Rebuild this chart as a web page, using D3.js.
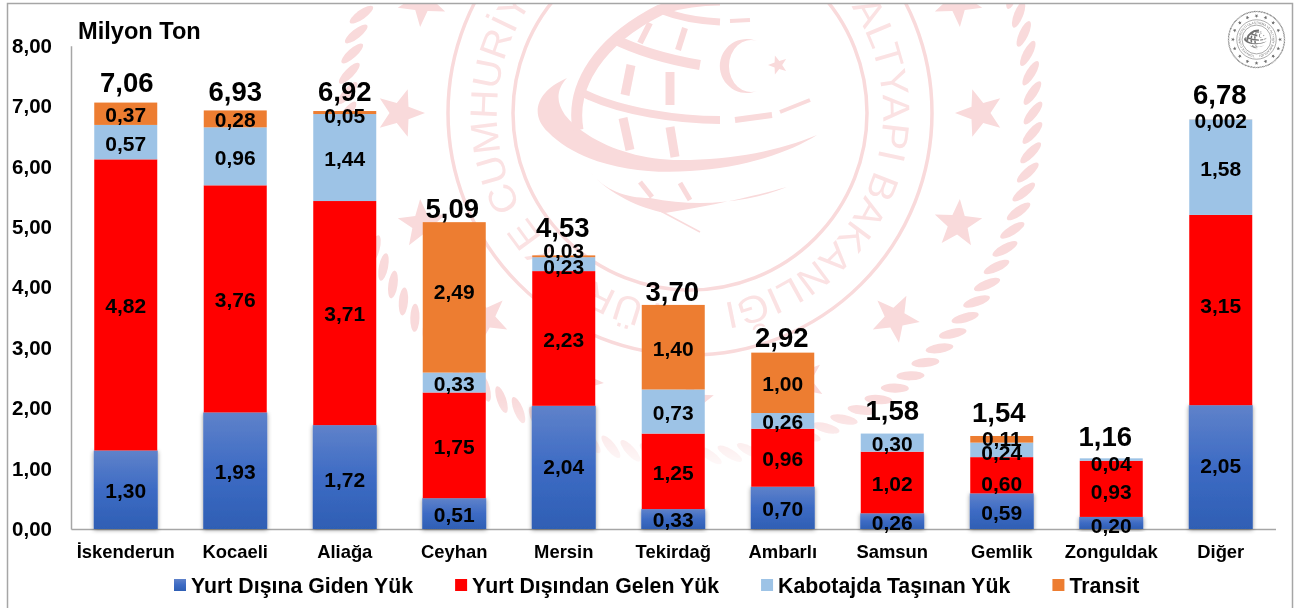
<!DOCTYPE html>
<html lang="tr"><head><meta charset="utf-8">
<script src="https://cdn.jsdelivr.net/npm/d3@7/dist/d3.min.js"></script>
<style>html,body{margin:0;padding:0;background:#fff}svg{display:block}
text{font-family:"Liberation Sans",Arial,sans-serif;font-weight:700;fill:#000}</style>
</head><body><svg id="c" width="1303" height="608"></svg>
<script>
// ---- data ----
const categories = ["İskenderun","Kocaeli","Aliağa","Ceyhan","Mersin","Tekirdağ","Ambarlı","Samsun","Gemlik","Zonguldak","Diğer"];
const seriesNames = ["Yurt Dışına Giden Yük","Yurt Dışından Gelen Yük","Kabotajda Taşınan Yük","Transit"];
const gidenYuk   = [1.30,1.93,1.72,0.51,2.04,0.33,0.70,0.26,0.59,0.20,2.05];
const gelenYuk   = [4.82,3.76,3.71,1.75,2.23,1.25,0.96,1.02,0.60,0.93,3.15];
const kabotajYuk = [0.57,0.96,1.44,0.33,0.23,0.73,0.26,0.30,0.24,0.04,1.58];
const transitYuk = [0.37,0.28,0.05,2.49,0.03,1.40,1.00,0,0.11,0,0.002];
const totals     = [7.06,6.93,6.92,5.09,4.53,3.70,2.92,1.58,1.54,1.16,6.78];
const yTicks     = [0,1,2,3,4,5,6,7,8];
const yTitle     = "Milyon Ton";
const sealText   = "TÜRKİYE CUMHURİYETİ ULAŞTIRMA VE ALTYAPI BAKANLIĞI";

// ---- layout tweaks (hand-placed labels of the original) ----
const totalLift = [20,19,20,14,28,14,15,23,24,22,25];
const totalShift = [1,0,0,-2,-1,-1,-1,0,-3,-6,-1];
const labelNudge = {"4|3":-7,"4|2":1,"9|2":3,"9|0":2,"8|3":-2,"8|2":2,"2|3":2,"3|3":-7,"10|1":-5,"8|1":7,"9|1":2,"2|0":2,"10|0":-2,"4|0":-2};

const svg = d3.select("#c");
const defs = svg.append("defs");
const grad = defs.append("linearGradient").attr("id","blueGrad").attr("x1",0).attr("y1",0).attr("x2",0).attr("y2",1);
grad.append("stop").attr("offset",0).attr("stop-color","#5f82ca");
grad.append("stop").attr("offset",.5).attr("stop-color","#3d6bc4");
grad.append("stop").attr("offset",1).attr("stop-color","#2f5fb4");
const sh = defs.append("filter").attr("id","shadow").attr("x","-20%").attr("y","-20%").attr("width","140%").attr("height","140%");
sh.append("feDropShadow").attr("dx",0).attr("dy",1).attr("stdDeviation",2.2).attr("flood-color","#000").attr("flood-opacity",.42);
const soft = defs.append("filter").attr("id","soft");
soft.append("feGaussianBlur").attr("stdDeviation",.7);
const soft2 = defs.append("filter").attr("id","soft2");
soft2.append("feGaussianBlur").attr("stdDeviation",4);
const clip = defs.append("clipPath").attr("id","frame");
clip.append("rect").attr("x",8).attr("y",4).attr("width",1284).attr("height",604);
const fade = defs.append("linearGradient").attr("id","fadeGrad").attr("gradientUnits","userSpaceOnUse").attr("x1",0).attr("y1",400).attr("x2",0).attr("y2",480);
fade.append("stop").attr("offset",0).attr("stop-color","#fff");
fade.append("stop").attr("offset",1).attr("stop-color","#000");
const mask = defs.append("mask").attr("id","fadeMask").attr("maskUnits","userSpaceOnUse").attr("x",0).attr("y",0).attr("width",1303).attr("height",608);
mask.append("rect").attr("width",1303).attr("height",608).attr("fill","url(#fadeGrad)");

// ---- seal (watermark and corner logo share it) ----
function star(r){
  return d3.range(10).map(i=>{const a=i*Math.PI/5, q=i%2?r*.42:r; return [q*Math.sin(a),-q*Math.cos(a)];});
}
function drawSeal(g, col, pale, sw, tid){
  const ink = g.append("g").attr("fill","none").attr("stroke",col);
  ink.append("circle").attr("r",242).attr("stroke-width",sw*3.5);
  ink.append("circle").attr("r",177).attr("stroke-width",sw*3.5);
  // rope
  d3.range(108).forEach(i=>{
    const a=i/108*360;
    g.append("ellipse").attr("cx",343).attr("cy",0).attr("rx",14).attr("ry",4.6)
      .attr("transform",`rotate(${a}) rotate(-52,343,0)`).attr("fill",col);
  });
  // stars
  d3.range(16).forEach(i=>{
    const a=i*22.5;
    g.append("polygon").attr("points",star(25).join(" "))
      .attr("transform",`rotate(${a}) translate(290,0) rotate(-90)`).attr("fill",col);
  });
  const R=193,s=186*Math.PI/180;
  const pa=`M${R*Math.sin(s)},${-R*Math.cos(s)}`+
    `A${R},${R} 0 1 1 ${R*Math.sin(s+Math.PI)},${-R*Math.cos(s+Math.PI)}`+
    `A${R},${R} 0 1 1 ${R*Math.sin(s+2*Math.PI)},${-R*Math.cos(s+2*Math.PI)}`;
  defs.append("path").attr("id",tid).attr("d",pa);
  g.append("text").style("font-size","38px").style("font-weight",400).style("fill",pale)
   .append("textPath").attr("href","#"+tid)
   .attr("textLength",R*344*Math.PI/180).attr("lengthAdjust","spacingAndGlyphs").text(sealText);
  // emblem, sketched in the picture's own coordinates round the seal's centre
  const e=g.append("g").attr("transform","translate(-690,-113)");
  const fillP=d=>e.append("path").attr("d",d).attr("fill",col);
  const st=(d,w)=>e.append("path").attr("d",d).attr("fill","none").attr("stroke",col).attr("stroke-width",w*sw);
  fillP("M567,78C535,92 530,115 548,132C580,165 640,175 690,171C745,168 790,152 817,135C780,150 735,160 680,160C630,160 585,140 565,115C556,102 556,90 567,78Z");
  fillP("M590,172C605,190 625,198 650,198C700,208 750,202 787,187C750,197 715,205 665,213C640,208 610,195 590,172Z");
  st("M578,130C570,85 600,40 660,10C680,2 700,0 720,0",11);
  st("M612,38C640,52 670,60 700,65",10);
  st("M660,10C680,18 700,21 720,22",7);
  st("M730,21L750,20",4);
  st("M583,93C620,112 680,120 720,120",8);
  st("M735,120L772,115",6);
  st("M780,112L810,100",4);
  [["M650,23L640,43",6],["M685,28L678,50",6],["M631,65L625,95",9],["M670,72L670,105",9],["M623,118L630,150",9],["M670,127L675,157",9],["M640,182L652,197",5],["M680,183L690,200",5]].forEach(p=>st(p[0],p[1]));
  st("M640,200L700,232",1.5);
  fillP("M757,41A27,27 0 1 0 757,91A22,26 0 1 1 757,41Z");
  e.append("polygon").attr("points",star(10).join(" ")).attr("transform","translate(778,65) rotate(-90)").attr("fill",col);
}
const back = svg.append("g").attr("clip-path","url(#frame)");
const masked = back.append("g").attr("mask","url(#fadeMask)");
const mark = masked.append("g").attr("transform","translate(690,113)").attr("filter","url(#soft)");
drawSeal(mark,"#f9dadb","#fbe2e3",1,"sealBig");

// ---- frame ----
svg.append("path").attr("d","M7.5,608V3.5H1292.5V608").attr("fill","none").attr("stroke","#a6a6a6").attr("stroke-width",1.5);

// corner logo
const logo = svg.append("g").attr("transform","translate(1256.5,39.5) scale(0.0815)");
drawSeal(logo,"#6f6f6f","#6f6f6f",2,"sealSmall");

// ---- scales ----
const x = d3.scaleBand().domain(categories).range([71,1275.5]).paddingInner(1-63/109.5).paddingOuter((1-63/109.5)/2);
const y = d3.scaleLinear().domain([0,8]).range([529,45.8]);
const colors = d3.scaleOrdinal().domain(seriesNames).range(["url(#blueGrad)","#ff0000","#9dc3e6","#ed7d31"]);

const rows = categories.map((c,i)=>({cat:c,[seriesNames[0]]:gidenYuk[i],[seriesNames[1]]:gelenYuk[i],[seriesNames[2]]:kabotajYuk[i],[seriesNames[3]]:transitYuk[i]}));
const stack = d3.stack().keys(seriesNames)(rows);

// ---- axes ----
const yAxis = d3.axisLeft(y).tickValues(yTicks).tickSize(0).tickPadding(19).tickFormat(d=>d3.format(".2f")(d).replace(".",","));
const gy = svg.append("g").attr("transform","translate(71,0)").call(yAxis);
gy.select(".domain").attr("stroke","#a6a6a6").attr("stroke-width",1.5);
gy.selectAll("text").style("font-size","20.5px").style("font-family",'"Liberation Sans"');
const xAxis = d3.axisBottom(x).tickSize(0).tickPadding(16);
const gx = svg.append("g").attr("transform","translate(0,529)").call(xAxis);
gx.select(".domain").attr("stroke","#a6a6a6").attr("stroke-width",1.5);
gx.selectAll("text").style("font-size","18.4px").style("font-family",'"Liberation Sans"');

svg.append("text").attr("x",78).attr("y",39).style("font-size","23.6px").text(yTitle);

// ---- bars ----
const layers = svg.selectAll("g.layer").data(stack).join("g").attr("class","layer")
  .attr("fill",d=>colors(d.key));
layers.each(function(s,si){
  d3.select(this).selectAll("rect").data(Array.from(s)).join("rect")
    .attr("x",d=>x(d.data.cat)-(si===0?0.5:0))
    .attr("width",x.bandwidth()+(si===0?1:0))
    .attr("y",d=>y(d[1]))
    .attr("height",d=>Math.max(0,y(d[0])-y(d[1])))
    .attr("filter",si===0?"url(#shadow)":null);
});

// ---- value labels ----
const fmt = v => (v<0.01?d3.format(".3f")(v):d3.format(".2f")(v)).replace(".",",");
stack.forEach((s,si)=>{
  svg.append("g").selectAll("text").data(Array.from(s).filter(d=>d[1]-d[0]>0)).join("text")
    .attr("x",d=>x(d.data.cat)+x.bandwidth()/2)
    .attr("y",d=>(y(d[0])+y(d[1]))/2+(labelNudge[categories.indexOf(d.data.cat)+"|"+si]||0))
    .attr("dy",".4em").attr("text-anchor","middle").style("font-size","21px")
    .text(d=>fmt(d[1]-d[0]));
});
svg.append("g").selectAll("text").data(totals).join("text")
  .attr("x",(d,i)=>x(categories[i])+x.bandwidth()/2+totalShift[i])
  .attr("y",(d,i)=>y(stack[3][i][1])-totalLift[i])
  .attr("dy",".35em").attr("text-anchor","middle").style("font-size","27.5px")
  .text(d=>d3.format(".2f")(d).replace(".",","));

// ---- legend ----
const lg = svg.append("g").attr("transform","translate(174,0)");
let lx = 0;
seriesNames.forEach(n=>{
  lg.append("rect").attr("x",lx).attr("y",579).attr("width",12).attr("height",12).attr("fill",colors(n));
  const t = lg.append("text").attr("x",lx+17).attr("y",592.5).style("font-size","21.3px").text(n);
  lx += 17 + t.node().getComputedTextLength() + 42;
});
</script></body></html>
